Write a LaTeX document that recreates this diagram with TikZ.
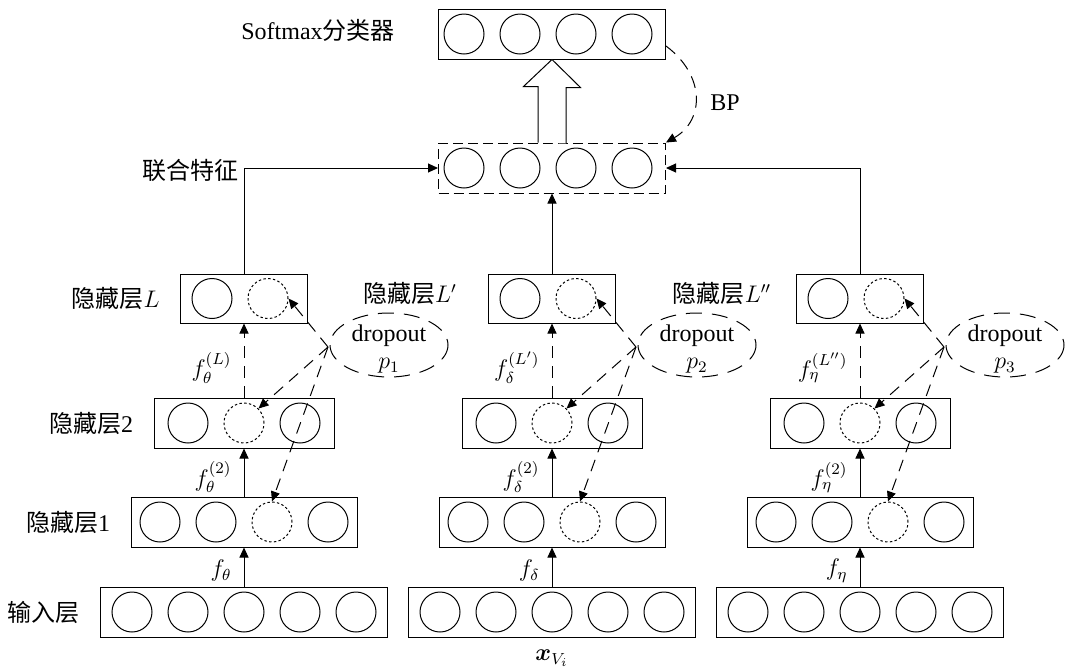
\documentclass[tikz,border=0pt]{standalone}
\usepackage{amsmath}
\usepackage{fontspec}
\setmainfont{Liberation Serif}
\newfontfamily\cjk{Noto Sans CJK SC}
\usetikzlibrary{positioning,arrows.meta,calc}

\begin{document}
\begin{tikzpicture}[
  x=0.5pt, y=-0.5pt,
  line width=0.5pt,
  layer/.style={draw, minimum height=25pt, inner sep=0pt},
  unit/.style={draw, circle, minimum size=20pt, inner sep=0pt},
  drop/.style={unit, dash pattern=on 1.2pt off 1.2pt},
  lbl/.style={font=\fontsize{12}{13.5}\selectfont, inner sep=1pt},
  arr/.style={-{Triangle[length=5pt, width=4.5pt]}},
  darr/.style={arr, dash pattern=on 6pt off 4pt}
]
  \useasboundingbox (0,0) rectangle (1066,671);

  % softmax and joint feature
  \node[layer, minimum width=113.5pt] (softmax) at (552,34) {};
  \node[layer, minimum width=113.5pt, dash pattern=on 5pt off 2.5pt] (joint) at (552,168) {};
  \foreach \dx in {-88,-32,24,80} {
    \node[unit] (s\dx) at ($(softmax)+(\dx,0)$) {};
    \node[unit] (j\dx) at ($(joint)+(\dx,0)$) {};
  }

  % the three columns
  \foreach \col/\px/\gr/\pr/\n in {a/244/\theta/{}/1, b/552/\delta/{'}/2, c/860/\eta/{''}/3} {
    % input layer
    \node[layer, minimum width=143.5pt] (inp\col) at (\px,612) {};
    \foreach \dx in {-112,-56,0,56,112}
      \node[unit] (inp\col\dx) at ($(inp\col)+(\dx,0)$) {};
    % hidden layer 1
    \node[layer, minimum width=113pt] (hid1\col) at (\px,522) {};
    \foreach \dx in {-84,-28,84}
      \node[unit] (hid1\col\dx) at ($(hid1\col)+(\dx,0)$) {};
    \node[drop] (hid1\col-x) at ($(hid1\col)+(28,0)$) {};
    % hidden layer 2
    \node[layer, minimum width=90pt] (hid2\col) at (\px,423) {};
    \node[unit] (hid2\col-l) at ($(hid2\col)+(-56,0)$) {};
    \node[drop] (hid2\col-x) at (hid2\col) {};
    \node[unit] (hid2\col-r) at ($(hid2\col)+(56,0)$) {};
    % hidden layer L
    \node[layer, minimum width=63.5pt, minimum height=24.5pt] (hidL\col) at (\px,298.5) {};
    \node[unit] (hidL\col-l) at ($(hidL\col)+(-32,0)$) {};
    \node[drop] (hidL\col-x) at ($(hidL\col)+(24,0)$) {};
    % dropout
    \node[lbl, align=center] (drop\col) at (\px+145,349) {dropout\\$p_{\n}$};
    \draw[dash pattern=on 8pt off 5pt] ($(drop\col)+(0,-4)$) ellipse [x radius=59, y radius=32];
    \coordinate (src\col) at ($(drop\col)+(-61,-2)$);

    \draw[arr] (inp\col.north) -- (hid1\col.south) node[lbl, pos=0.4, left=5pt] (fa\col) {$f_{\gr}$};
    \draw[arr] (hid1\col.north) -- (hid2\col.south) node[lbl, pos=0.4, left=5pt] (fb\col) {$f_{\gr}^{(2)}$};
    \draw[darr] (hid2\col.north) -- (hidL\col.south) node[lbl, pos=0.4, left=5pt] (fc\col) {$f_{\gr}^{(L\pr)}$};
    \draw[darr] (src\col) -- (hidL\col-x.east);
    \draw[darr] (src\col) -- (hid2\col-x.north east);
    \draw[darr] (src\col) -- (hid1\col-x.north);
  }

  \draw[arr] (hidLa.north) |- (joint.west);
  \draw[arr] (hidLb.north) -- (joint.south);
  \draw[arr] (hidLc.north) |- (joint.east);

  % hollow arrow and BP
  \draw[fill=white] ($(joint.north)+(-14,0)$) -- ++(0,-56) -- ++(-14.5,0) -- (softmax.south)
    -- ++(28.5,28) -- ++(-14.5,0) -- ++(0,56);
  \draw[darr] ($(softmax.east)+(0,12)$) .. controls (705,75) and (705,120) .. (joint.north east);
  \node[lbl] (bp) at (725,103) {BP};

  % labels
  \node[lbl] (tsoft) at (318,30) {Softmax{\cjk 分类器}};
  \node[lbl] (tjoint) at (190,170) {{\cjk 联合特征}};
  \node[lbl, left=9pt of hidLa] (tLa) {{\cjk 隐藏层}$L$};
  \node[lbl] (tLb) at (410,293) {{\cjk 隐藏层}$L'$};
  \node[lbl] (tLc) at (722,293) {{\cjk 隐藏层}$L''$};
  \node[lbl, left=9pt of hid2a] (t2) {{\cjk 隐藏层}2};
  \node[lbl, left=9pt of hid1a] (t1) {{\cjk 隐藏层}1};
  \node[lbl, left=9pt of inpa] (tin) {{\cjk 输入层}};
  \node[lbl, below=5pt of inpb] (tx) {$\boldsymbol{x}_{V_i}$};
\end{tikzpicture}
\end{document}
